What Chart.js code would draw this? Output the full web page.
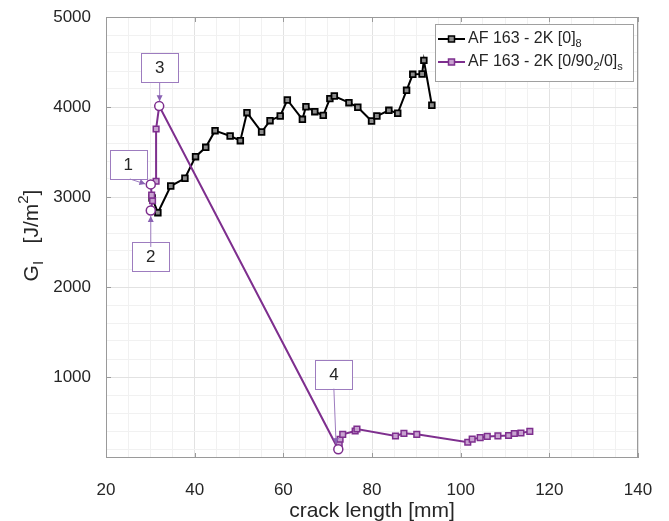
<!DOCTYPE html>
<html>
<head>
    <title>GI vs crack length</title>
    <meta charset="UTF-8" />
    <script src="https://cdn.jsdelivr.net/npm/chart.js"></script>
    <style>
  html, body {
    margin: 0;
    padding: 0;
    background: #fff;
    overflow: hidden;
  }
</style>
</head>
<body>
<canvas id="myChart" width="669" height="521"></canvas>
<script>
// axis ticks (major labels)
const xTicks = [20, 40, 60, 80, 100, 120, 140];
const yTicks = [1000, 2000, 3000, 4000, 5000];

// AF 163 - 2K [0]8
const crackBlack = [30.4, 31.7, 34.6, 37.8, 40.2, 42.5, 44.6, 48.0, 50.3, 51.8, 55.1, 57.0, 59.3, 60.9, 64.3, 65.1, 67.1, 69.0, 70.5, 71.5, 74.8, 76.8, 79.9, 81.1, 83.8, 85.8, 87.8, 89.2, 91.3, 91.7, 93.5];
const gBlack = [2990, 2826, 3122, 3208, 3448, 3552, 3737, 3678, 3626, 3937, 3722, 3848, 3900, 4078, 3863, 4003, 3948, 3907, 4093, 4122, 4048, 3997, 3844, 3900, 3963, 3930, 4185, 4363, 4367, 4518, 4019];

// AF 163 - 2K [0/902/0]s
const crackPurple = [30.1, 30.5, 30.3, 30.1, 31.3, 31.3, 32.0, 72.4, 72.6, 72.8, 73.4, 76.2, 76.6, 85.3, 87.2, 90.1, 101.6, 102.6, 104.4, 106.0, 108.4, 110.8, 112.1, 113.6, 115.6];
const gPurple = [2850, 2960, 3020, 3140, 3175, 3756, 4010, 197, 256, 308, 363, 400, 422, 344, 374, 363, 275, 310, 326, 340, 345, 350, 372, 378, 396];

// marked points 1..4
const markLabels = ['1', '2', '3', '4'];
const crackMarked = [30.1, 30.1, 32.0, 72.4];
const gMarked = [3140, 2850, 4010, 197];

const PURPLE = '#7e2f8e';
const TXT = '#262626';

function pts(xs, ys) {
    return xs.map((x, i) => ({ x: x, y: ys[i] }));
}

// boxes for the numbered labels: box centre and arrow start, in data units
const notes = [
    { bx: 25.0, by: 3360, sx: 25.4, sy: 3200, ex: 28.9, ey: 3144 },
    { bx: 30.1, by: 2344, sx: 30.1, sy: 2445, ex: 30.1, ey: 2790 },
    { bx: 32.1, by: 4436, sx: 32.1, sy: 4275, ex: 32.1, ey: 4065 },
    { bx: 71.4, by: 1028, sx: 71.4, sy: 870, ex: 71.9, ey: 255 }
];

// draw text pieces, some of them lowered (sub) or raised (sup)
function richText(ctx, parts, x, y, size) {
    let cx = x;
    for (const p of parts) {
        const small = p.sub || p.sup;
        ctx.font = (small ? Math.round(size * 0.7) : size) + 'px "Liberation Sans", Arial, sans-serif';
        const dy = p.sub ? size * 0.32 : (p.sup ? -size * 0.38 : 0);
        ctx.fillText(p.t, cx, y + dy);
        cx += ctx.measureText(p.t).width;
    }
    return cx - x;
}
function richWidth(ctx, parts, size) {
    let w = 0;
    for (const p of parts) {
        const small = p.sub || p.sup;
        ctx.font = (small ? Math.round(size * 0.7) : size) + 'px "Liberation Sans", Arial, sans-serif';
        w += ctx.measureText(p.t).width;
    }
    return w;
}

const extras = {
    id: 'extras',
    afterDraw(chart) {
        const ctx = chart.ctx;
        const a = chart.chartArea;
        const xs = chart.scales.x, ys = chart.scales.y;
        ctx.save();

        // frame and inward ticks
        ctx.strokeStyle = '#9a9a9a';
        ctx.lineWidth = 1;
        ctx.strokeRect(a.left + 0.5, a.top + 0.5, a.right - a.left - 1, a.bottom - a.top - 1);
        ctx.beginPath();
        for (const v of xTicks) {
            const p = Math.round(xs.getPixelForValue(v)) + 0.5;
            ctx.moveTo(p, a.bottom); ctx.lineTo(p, a.bottom - 5);
            ctx.moveTo(p, a.top); ctx.lineTo(p, a.top + 5);
        }
        for (const v of yTicks) {
            const p = Math.round(ys.getPixelForValue(v)) + 0.5;
            ctx.moveTo(a.left, p); ctx.lineTo(a.left + 5, p);
            ctx.moveTo(a.right, p); ctx.lineTo(a.right - 5, p);
        }
        ctx.stroke();

        // numbered boxes with arrows
        notes.forEach((n, i) => {
            const bx = xs.getPixelForValue(n.bx), by = ys.getPixelForValue(n.by);
            const sx = xs.getPixelForValue(n.sx), sy = ys.getPixelForValue(n.sy);
            const ex = xs.getPixelForValue(n.ex), ey = ys.getPixelForValue(n.ey);
            ctx.fillStyle = '#fff';
            ctx.fillRect(bx - 18.5, by - 14.5, 37, 29);
            ctx.strokeStyle = '#9d7cbf';
            ctx.lineWidth = 1;
            ctx.strokeRect(Math.round(bx - 18.5) + 0.5, Math.round(by - 14.5) + 0.5, 37, 29);
            ctx.fillStyle = TXT;
            ctx.font = '17px "Liberation Sans", Arial, sans-serif';
            ctx.textAlign = 'center';
            ctx.textBaseline = 'middle';
            ctx.fillText(markLabels[i], bx, by + 1);
            // arrow
            ctx.strokeStyle = '#9d7cbf';
            ctx.beginPath();
            ctx.moveTo(sx, sy);
            ctx.lineTo(ex, ey);
            ctx.stroke();
            const ang = Math.atan2(ey - sy, ex - sx);
            ctx.fillStyle = '#8a62b3';
            ctx.beginPath();
            ctx.moveTo(ex, ey);
            ctx.lineTo(ex - 6 * Math.cos(ang) + 3 * Math.sin(ang), ey - 6 * Math.sin(ang) - 3 * Math.cos(ang));
            ctx.lineTo(ex - 6 * Math.cos(ang) - 3 * Math.sin(ang), ey - 6 * Math.sin(ang) + 3 * Math.cos(ang));
            ctx.closePath();
            ctx.fill();
        });

        // legend
        const lx = 435.5, ly = 24.5, lw = 198, lh = 57;
        ctx.fillStyle = '#fff';
        ctx.fillRect(lx, ly, lw, lh);
        ctx.strokeStyle = '#a0a0a0';
        ctx.lineWidth = 1;
        ctx.strokeRect(lx, ly, lw, lh);
        const rows = [
            { c: '#000', fill: '#8c8c8c', y: 39, parts: [{ t: 'AF 163 - 2K [0]' }, { t: '8', sub: true }] },
            { c: PURPLE, fill: '#c8a2d0', y: 62, parts: [{ t: 'AF 163 - 2K [0/90' }, { t: '2', sub: true }, { t: '/0]' }, { t: 's', sub: true }] }
        ];
        for (const r of rows) {
            ctx.strokeStyle = r.c;
            ctx.lineWidth = 2;
            ctx.beginPath();
            ctx.moveTo(438, r.y); ctx.lineTo(465, r.y);
            ctx.stroke();
            ctx.fillStyle = r.fill;
            ctx.lineWidth = 1.5;
            ctx.fillRect(448.5, r.y - 3, 6, 6);
            ctx.strokeRect(448.5, r.y - 3, 6, 6);
            ctx.fillStyle = TXT;
            ctx.textAlign = 'left';
            ctx.textBaseline = 'middle';
            richText(ctx, r.parts, 468, r.y, 16);
        }

        // axis titles
        ctx.fillStyle = TXT;
        ctx.textAlign = 'center';
        ctx.textBaseline = 'middle';
        ctx.font = '21px "Liberation Sans", Arial, sans-serif';
        ctx.fillText('crack length [mm]', (a.left + a.right) / 2, 511);

        const yParts = [{ t: 'G' }, { t: 'I', sub: true }, { t: '   [J/m' }, { t: '2', sup: true }, { t: ']' }];
        ctx.translate(32, (a.top + a.bottom) / 2 - 2);
        ctx.rotate(-Math.PI / 2);
        ctx.textAlign = 'left';
        const w = richWidth(ctx, yParts, 21);
        richText(ctx, yParts, -w / 2, 0, 21);
        ctx.restore();
    }
};

const ctx = document.getElementById('myChart').getContext('2d');
const myChart = new Chart(ctx, {
    type: 'scatter',
    data: {
        datasets: [{
            label: 'marked',
            data: pts(crackMarked, gMarked),
            showLine: false,
            pointStyle: 'circle',
            pointRadius: 4.5,
            pointBorderWidth: 1.5,
            pointBorderColor: PURPLE,
            pointBackgroundColor: '#fff',
            order: 0
        }, {
            label: 'AF 163 - 2K [0/90_2/0]_s',
            data: pts(crackPurple, gPurple),
            showLine: true,
            borderColor: PURPLE,
            borderWidth: 2,
            pointStyle: 'rect',
            pointRadius: 4,
            pointBorderWidth: 1.5,
            pointBorderColor: PURPLE,
            pointBackgroundColor: '#c8a2d0',
            order: 1
        }, {
            label: 'AF 163 - 2K [0]_8',
            data: pts(crackBlack, gBlack),
            showLine: true,
            borderColor: '#000',
            borderWidth: 2,
            pointStyle: 'rect',
            pointRadius: 4,
            pointBorderWidth: 1.8,
            pointBorderColor: '#000',
            pointBackgroundColor: '#8c8c8c',
            order: 2
        }]
    },
    options: {
        responsive: false,
        animation: false,
        layout: { padding: { top: 17, right: 31, left: 0, bottom: 0 } },
        plugins: {
            legend: { display: false },
            tooltip: { enabled: false }
        },
        scales: {
            x: {
                type: 'linear',
                min: 20,
                max: 140,
                afterBuildTicks: s => {
                    const t = [];
                    for (let v = 20; v <= 140; v += 5) t.push({ value: v });
                    s.ticks = t;
                },
                afterFit: s => {
                    s.height = 63;
                    s.paddingLeft = 0;
                    s.paddingRight = 0;
                },
                border: { display: false },
                grid: {
                    drawTicks: false,
                    color: c => (c.tick && xTicks.includes(c.tick.value)) ? '#e2e2e2' : '#f1f1f1'
                },
                ticks: {
                    autoSkip: false,
                    maxRotation: 0,
                    padding: 22,
                    color: TXT,
                    font: { size: 17, family: '"Liberation Sans", Arial, sans-serif' },
                    callback: v => xTicks.includes(v) ? String(v) : ''
                }
            },
            y: {
                type: 'linear',
                min: 100,
                max: 5000,
                afterBuildTicks: s => {
                    const t = [];
                    for (let v = 200; v <= 5000; v += 200) t.push({ value: v });
                    s.ticks = t;
                },
                afterFit: s => {
                    s.width = 106;
                    s.paddingTop = 0;
                    s.paddingBottom = 0;
                },
                border: { display: false },
                grid: {
                    drawTicks: false,
                    color: c => (c.tick && yTicks.includes(c.tick.value)) ? '#e2e2e2' : '#f1f1f1'
                },
                ticks: {
                    autoSkip: false,
                    padding: 15,
                    color: TXT,
                    font: { size: 17, family: '"Liberation Sans", Arial, sans-serif' },
                    callback: v => yTicks.includes(v) ? String(v) : ''
                }
            }
        }
    },
    plugins: [extras]
});
</script>
</body>
</html>
